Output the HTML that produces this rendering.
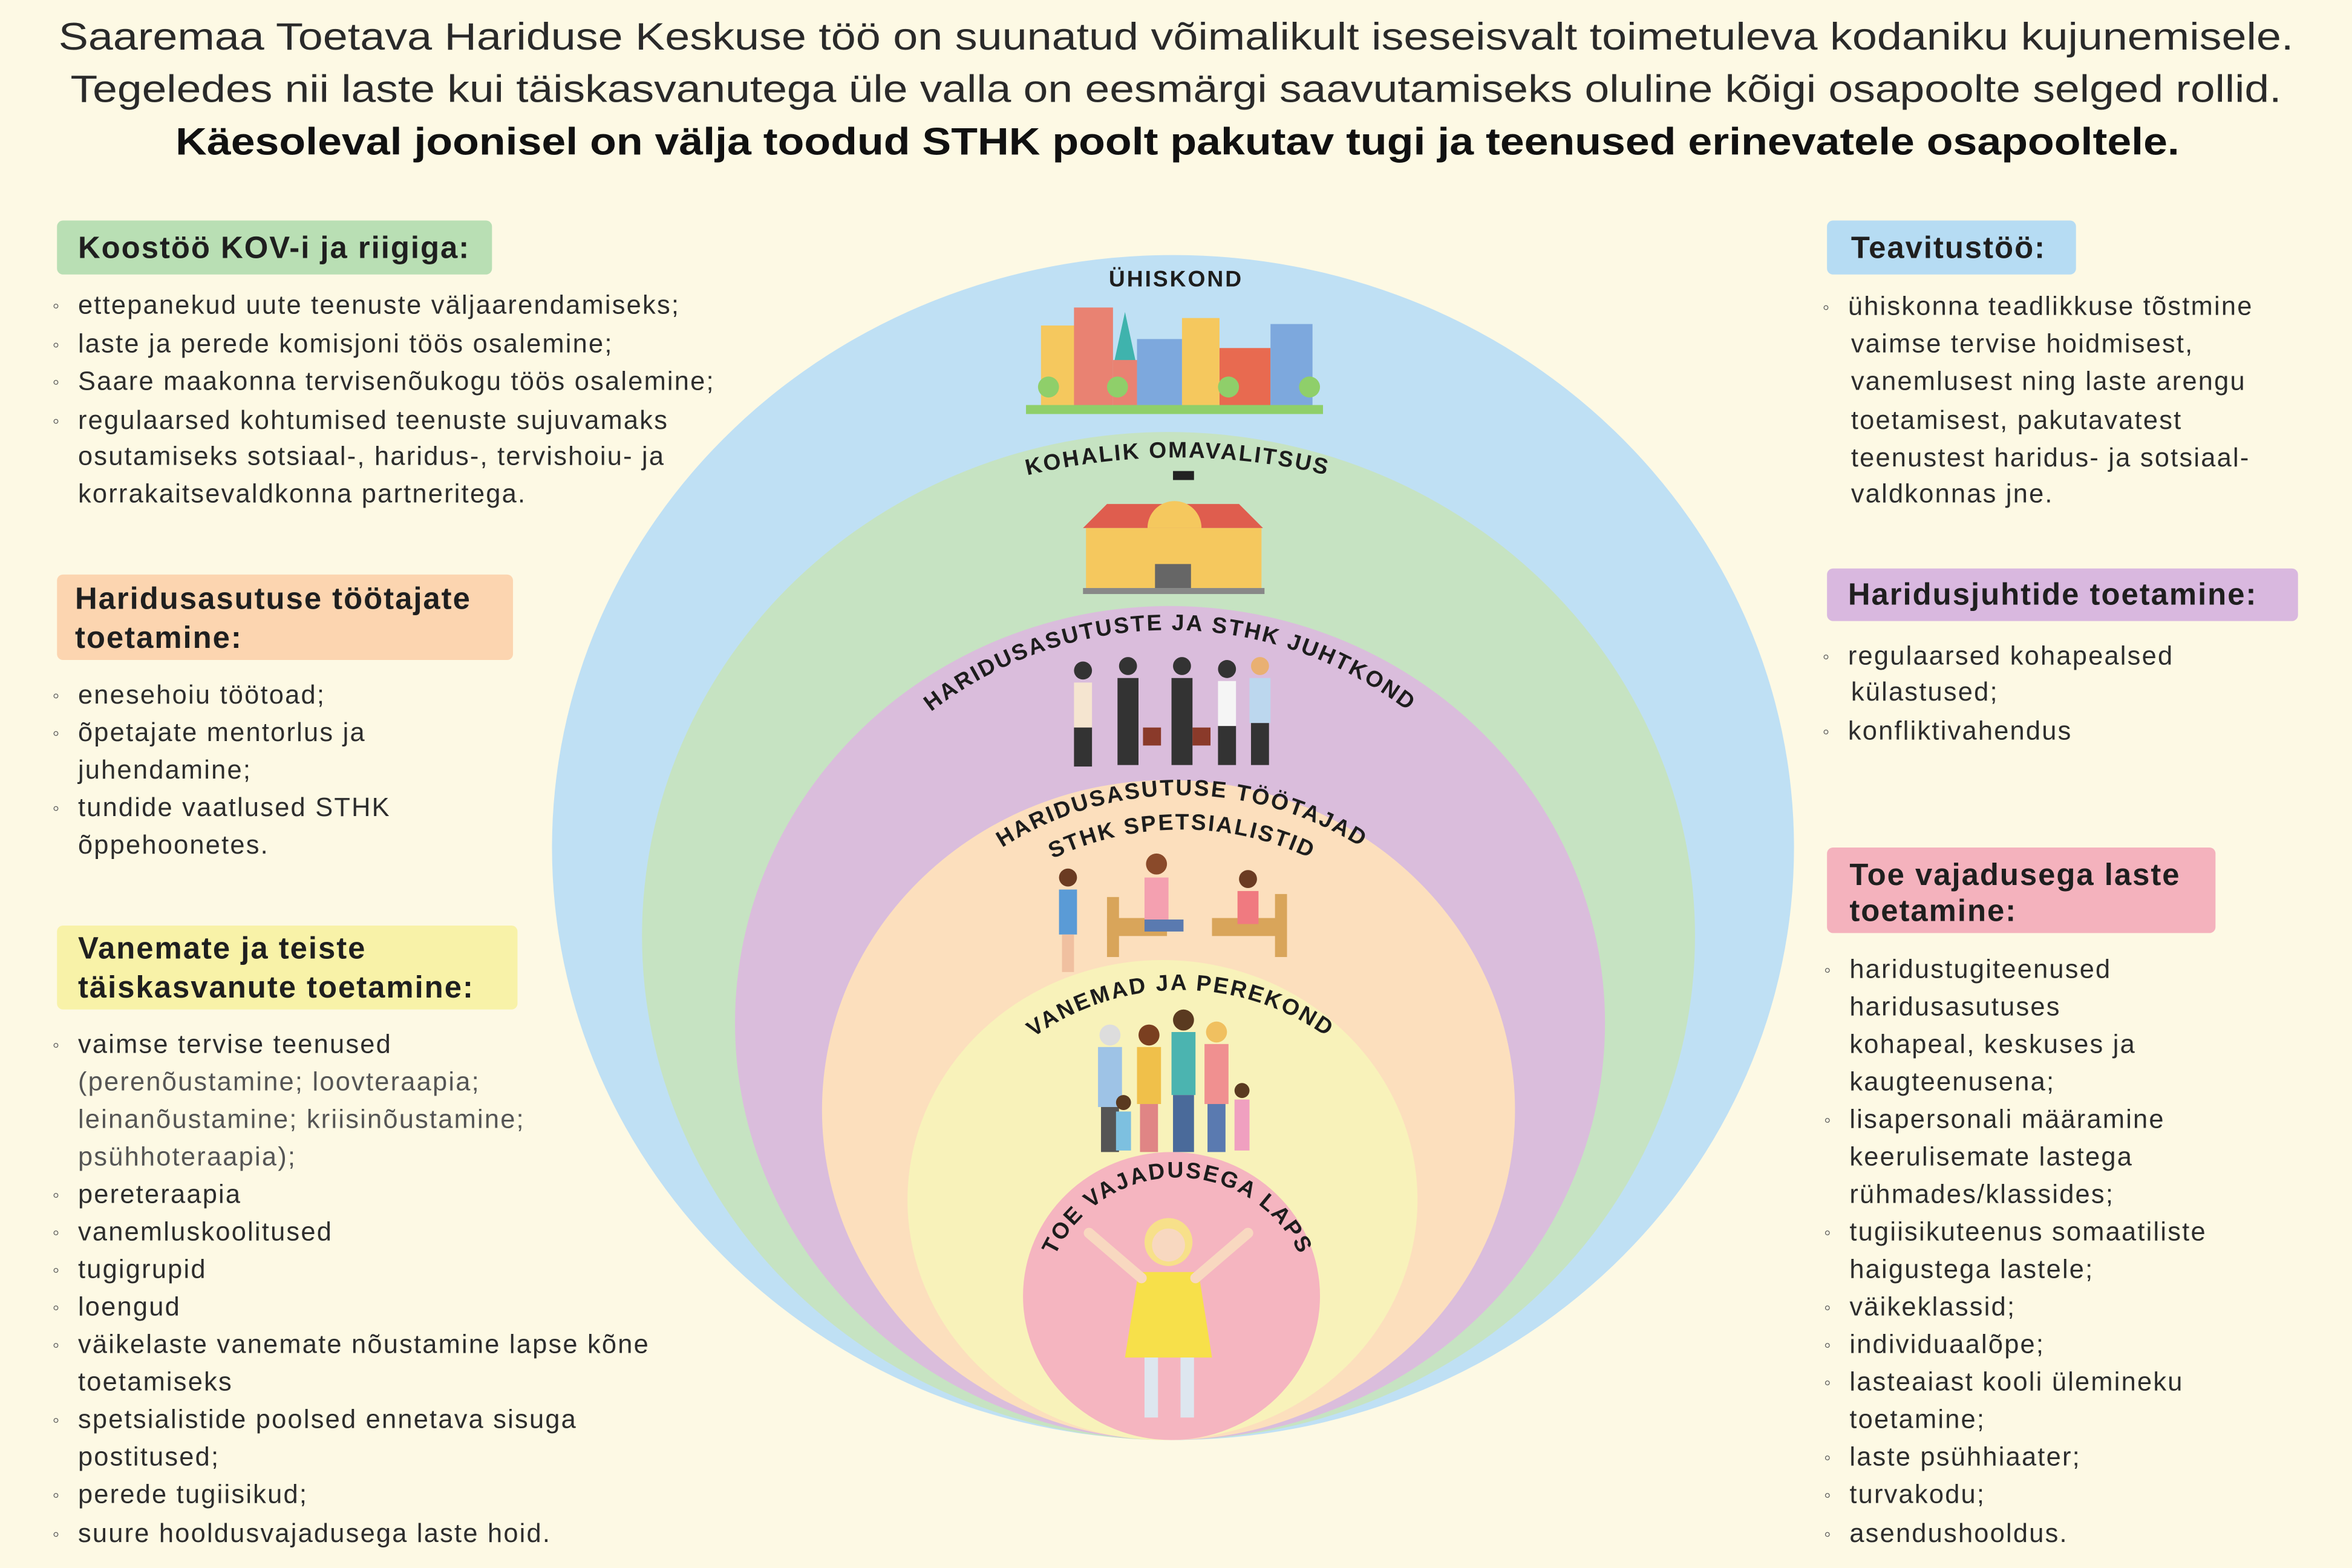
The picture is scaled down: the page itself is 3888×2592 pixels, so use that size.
<!DOCTYPE html>
<html><head><meta charset="utf-8"><style>
html,body{margin:0;padding:0;background:#fdf9e4;}
svg{display:block}
text{font-family:"Liberation Sans",sans-serif;}
.b{font-size:17.5px;fill:#2d2d2d;letter-spacing:0.9px}
.g{font-size:17.5px;fill:#555;letter-spacing:0.9px}
.bu{font-size:13px;fill:#555}
.h{font-size:20.5px;font-weight:bold;fill:#1f1f1f;letter-spacing:0.8px}
.c{font-size:15px;font-weight:bold;fill:#1d1d1d;letter-spacing:1.2px}
</style></head><body>
<svg width="3888" height="2592" viewBox="0 0 1568 1045.3" xmlns="http://www.w3.org/2000/svg">
<rect width="1568" height="1046" fill="#fdf9e4"/>
<g font-size="25.5" fill="#2a2a2a" text-anchor="middle">
<text x="784" y="33" textLength="1490" lengthAdjust="spacingAndGlyphs">Saaremaa Toetava Hariduse Keskuse töö on suunatud võimalikult iseseisvalt toimetuleva kodaniku kujunemisele.</text>
<text x="784" y="68" textLength="1474" lengthAdjust="spacingAndGlyphs">Tegeledes nii laste kui täiskasvanutega üle valla on eesmärgi saavutamiseks oluline kõigi osapoolte selged rollid.</text>
<text x="785" y="103" font-weight="bold" fill="#111" textLength="1336" lengthAdjust="spacingAndGlyphs">Käesoleval joonisel on välja toodud STHK poolt pakutav tugi ja teenused erinevatele osapooltele.</text>
</g>
<ellipse cx="782" cy="565" rx="414" ry="395" fill="#bfe0f4"/>
<ellipse cx="779" cy="624" rx="351" ry="336" fill="#c6e3c2"/>
<ellipse cx="780" cy="682" rx="290" ry="278" fill="#dabddc"/>
<ellipse cx="779" cy="740" rx="231" ry="220" fill="#fcdfbd"/>
<ellipse cx="775" cy="800" rx="170" ry="160" fill="#f8f2ba"/>
<ellipse cx="781" cy="864" rx="99" ry="96" fill="#f5b5c0"/>
<defs>
<path id="p1" d="M 355 735 A 430 430 0 0 1 1215 735"/>
<path id="p2" d="M 520 680 A 260 260 0 0 1 1040 680"/>
<path id="p3" d="M 565 753 A 223 223 0 0 1 1011 753"/>
<path id="p4" d="M 588 753 A 200 200 0 0 1 988 753"/>
<path id="p5" d="M 619 828 A 168 168 0 0 1 955 828"/>
<path id="p6" d="M 695 875 A 90 90 0 0 1 875 875"/>
</defs>
<text class="c" x="784" y="191" text-anchor="middle">ÜHISKOND</text>
<text class="c"><textPath href="#p1" startOffset="50%" text-anchor="middle">KOHALIK OMAVALITSUS</textPath></text>
<text class="c"><textPath href="#p2" startOffset="50%" text-anchor="middle">HARIDUSASUTUSTE JA STHK JUHTKOND</textPath></text>
<text class="c"><textPath href="#p3" startOffset="50%" text-anchor="middle">HARIDUSASUTUSE TÖÖTAJAD</textPath></text>
<text class="c"><textPath href="#p4" startOffset="50%" text-anchor="middle">STHK SPETSIALISTID</textPath></text>
<text class="c"><textPath href="#p5" startOffset="50%" text-anchor="middle">VANEMAD JA PEREKOND</textPath></text>
<text class="c"><textPath href="#p6" startOffset="50%" text-anchor="middle">TOE VAJADUSEGA LAPS</textPath></text>
<g>
<rect x="694" y="217" width="30" height="55" fill="#f5c85e"/>
<rect x="716" y="205" width="26" height="67" fill="#e98272"/>
<polygon points="742,245 750,208 758,245" fill="#3fb3ad"/>
<rect x="742" y="240" width="16" height="32" fill="#e98272"/>
<rect x="758" y="226" width="30" height="46" fill="#7da8dd"/>
<rect x="788" y="212" width="25" height="60" fill="#f5c85e"/>
<rect x="813" y="232" width="34" height="40" fill="#e86a50"/>
<rect x="847" y="216" width="28" height="56" fill="#7da8dd"/>
<rect x="684" y="270" width="198" height="6" fill="#8fcf6a"/>
<circle cx="699" cy="258" r="7" fill="#8fcf6a"/><circle cx="745" cy="258" r="7" fill="#8fcf6a"/><circle cx="819" cy="258" r="7" fill="#8fcf6a"/><circle cx="873" cy="258" r="7" fill="#8fcf6a"/>
</g>
<g>
<rect x="782" y="314" width="14" height="6" fill="#222"/>
<polygon points="722,352 738,336 826,336 842,352" fill="#df5d4e"/>
<path d="M 765 352 A 18 18 0 0 1 801 352 Z" fill="#f5c85e"/>
<rect x="724" y="352" width="117" height="40" fill="#f5c85e"/>
<rect x="722" y="392" width="121" height="4" fill="#888"/>
<rect x="770" y="376" width="24" height="16" fill="#666"/>
</g>
<g fill="#333">
<circle cx="722" cy="447" r="6"/><rect x="716" y="455" width="12" height="30" fill="#f5e5d0"/><rect x="716" y="485" width="12" height="26"/>
<circle cx="752" cy="444" r="6"/><rect x="745" y="452" width="14" height="58"/>
<circle cx="788" cy="444" r="6"/><rect x="781" y="452" width="14" height="58"/>
<rect x="762" y="485" width="12" height="12" fill="#8a3a2a"/><rect x="795" y="485" width="12" height="12" fill="#8a3a2a"/>
<circle cx="818" cy="446" r="6"/><rect x="812" y="454" width="12" height="30" fill="#f5f5f5"/><rect x="812" y="484" width="12" height="26"/>
<circle cx="840" cy="444" r="6" fill="#e9b072"/><rect x="833" y="452" width="14" height="30" fill="#bcd7ee"/><rect x="834" y="482" width="12" height="28"/>
</g>
<g>
<circle cx="712" cy="585" r="6" fill="#6b3b22"/><rect x="706" y="593" width="12" height="30" fill="#5a9bd6"/><rect x="708" y="623" width="8" height="25" fill="#f0c0a0"/>
<rect x="738" y="612" width="40" height="12" fill="#d9a55a"/><rect x="738" y="598" width="8" height="40" fill="#d9a55a"/>
<circle cx="771" cy="576" r="7" fill="#8a4a2a"/><rect x="763" y="585" width="16" height="28" fill="#f4a0b0"/><rect x="763" y="613" width="26" height="8" fill="#5a7ab0"/>
<rect x="808" y="612" width="50" height="12" fill="#d9a55a"/><rect x="850" y="596" width="8" height="42" fill="#d9a55a"/>
<circle cx="832" cy="586" r="6" fill="#6b3b22"/><rect x="825" y="594" width="14" height="22" fill="#f07a80"/>
</g>
<g>
<circle cx="740" cy="690" r="7" fill="#ddd"/><rect x="732" y="698" width="16" height="40" fill="#9ec3e6"/><rect x="734" y="738" width="12" height="30" fill="#555"/>
<circle cx="766" cy="690" r="7" fill="#7a3f20"/><rect x="758" y="698" width="16" height="38" fill="#f0c04a"/><rect x="760" y="736" width="12" height="32" fill="#e08585"/>
<circle cx="789" cy="680" r="7" fill="#5a3a20"/><rect x="781" y="688" width="16" height="42" fill="#4bb4b0"/><rect x="782" y="730" width="14" height="38" fill="#4a6a9a"/>
<circle cx="811" cy="688" r="7" fill="#f0c060"/><rect x="803" y="696" width="16" height="40" fill="#f09090"/><rect x="805" y="736" width="12" height="32" fill="#5a7ab0"/>
<circle cx="749" cy="735" r="5" fill="#5a3a20"/><rect x="744" y="741" width="10" height="26" fill="#7dc0e0"/>
<circle cx="828" cy="727" r="5" fill="#5a3a20"/><rect x="823" y="733" width="10" height="34" fill="#f0a0c0"/>
</g>
<g>
<circle cx="779" cy="828" r="16" fill="#f7e08a"/><circle cx="779" cy="830" r="11" fill="#f8d8c0"/>
<polygon points="759,848 799,848 808,905 750,905" fill="#f7e04a"/>
<line x1="761" y1="852" x2="726" y2="822" stroke="#f8d8c0" stroke-width="7" stroke-linecap="round"/>
<line x1="797" y1="852" x2="832" y2="822" stroke="#f8d8c0" stroke-width="7" stroke-linecap="round"/>
<rect x="763" y="905" width="9" height="40" fill="#dde6ef"/><rect x="787" y="905" width="9" height="40" fill="#dde6ef"/>
</g>

<rect x="38" y="147" width="290" height="36" rx="4" fill="#b9dfb4"/>
<text class="h" x="52" y="172">Koostöö KOV-i ja riigiga:</text>
<text class="bu" x="35" y="208">◦</text><text class="b" x="52" y="209">ettepanekud uute teenuste väljaarendamiseks;</text>
<text class="bu" x="35" y="234">◦</text><text class="b" x="52" y="235">laste ja perede komisjoni töös osalemine;</text>
<text class="bu" x="35" y="259">◦</text><text class="b" x="52" y="260">Saare maakonna tervisenõukogu töös osalemine;</text>
<text class="bu" x="35" y="285">◦</text><text class="b" x="52" y="286">regulaarsed kohtumised teenuste sujuvamaks</text>
<text class="b" x="52" y="310">osutamiseks sotsiaal-, haridus-, tervishoiu- ja</text>
<text class="b" x="52" y="335">korrakaitsevaldkonna partneritega.</text>

<rect x="38" y="383" width="304" height="57" rx="4" fill="#fcd5b0"/>
<text class="h" x="50" y="406">Haridusasutuse töötajate</text>
<text class="h" x="50" y="432">toetamine:</text>
<text class="bu" x="35" y="468">◦</text><text class="b" x="52" y="469">enesehoiu töötoad;</text>
<text class="bu" x="35" y="493">◦</text><text class="b" x="52" y="494">õpetajate mentorlus ja</text>
<text class="b" x="52" y="519">juhendamine;</text>
<text class="bu" x="35" y="543">◦</text><text class="b" x="52" y="544">tundide vaatlused STHK</text>
<text class="b" x="52" y="569">õppehoonetes.</text>

<rect x="38" y="617" width="307" height="56" rx="4" fill="#f8f2a8"/>
<text class="h" x="52" y="639">Vanemate ja teiste</text>
<text class="h" x="52" y="665">täiskasvanute toetamine:</text>
<text class="bu" x="35" y="701">◦</text><text class="b" x="52" y="702">vaimse tervise teenused</text>
<text class="g" x="52" y="727">(perenõustamine; loovteraapia;</text>
<text class="g" x="52" y="752">leinanõustamine; kriisinõustamine;</text>
<text class="g" x="52" y="777">psühhoteraapia);</text>
<text class="bu" x="35" y="801">◦</text><text class="b" x="52" y="802">pereteraapia</text>
<text class="bu" x="35" y="826">◦</text><text class="b" x="52" y="827">vanemluskoolitused</text>
<text class="bu" x="35" y="851">◦</text><text class="b" x="52" y="852">tugigrupid</text>
<text class="bu" x="35" y="876">◦</text><text class="b" x="52" y="877">loengud</text>
<text class="bu" x="35" y="901">◦</text><text class="b" x="52" y="902">väikelaste vanemate nõustamine lapse kõne</text>
<text class="b" x="52" y="927">toetamiseks</text>
<text class="bu" x="35" y="951">◦</text><text class="b" x="52" y="952">spetsialistide poolsed ennetava sisuga</text>
<text class="b" x="52" y="977">postitused;</text>
<text class="bu" x="35" y="1001">◦</text><text class="b" x="52" y="1002">perede tugiisikud;</text>
<text class="bu" x="35" y="1027">◦</text><text class="b" x="52" y="1028">suure hooldusvajadusega laste hoid.</text>

<rect x="1218" y="147" width="166" height="36" rx="4" fill="#b6dcf3"/>
<text class="h" x="1234" y="172">Teavitustöö:</text>
<text class="bu" x="1215" y="209">◦</text><text class="b" x="1232" y="210">ühiskonna teadlikkuse tõstmine</text>
<text class="b" x="1234" y="235">vaimse tervise hoidmisest,</text>
<text class="b" x="1234" y="260">vanemlusest ning laste arengu</text>
<text class="b" x="1234" y="286">toetamisest, pakutavatest</text>
<text class="b" x="1234" y="311">teenustest haridus- ja sotsiaal-</text>
<text class="b" x="1234" y="335">valdkonnas jne.</text>

<rect x="1218" y="379" width="314" height="35" rx="4" fill="#d9b8df"/>
<text class="h" x="1232" y="403">Haridusjuhtide toetamine:</text>
<text class="bu" x="1215" y="442">◦</text><text class="b" x="1232" y="443">regulaarsed kohapealsed</text>
<text class="b" x="1234" y="467">külastused;</text>
<text class="bu" x="1215" y="492">◦</text><text class="b" x="1232" y="493">konfliktivahendus</text>

<rect x="1218" y="565" width="259" height="57" rx="4" fill="#f4b2bd"/>
<text class="h" x="1233" y="590">Toe vajadusega laste</text>
<text class="h" x="1233" y="614">toetamine:</text>
<text class="bu" x="1216" y="651">◦</text><text class="b" x="1233" y="652">haridustugiteenused</text>
<text class="b" x="1233" y="677">haridusasutuses</text>
<text class="b" x="1233" y="702">kohapeal, keskuses ja</text>
<text class="b" x="1233" y="727">kaugteenusena;</text>
<text class="bu" x="1216" y="751">◦</text><text class="b" x="1233" y="752">lisapersonali määramine</text>
<text class="b" x="1233" y="777">keerulisemate lastega</text>
<text class="b" x="1233" y="802">rühmades/klassides;</text>
<text class="bu" x="1216" y="826">◦</text><text class="b" x="1233" y="827">tugiisikuteenus somaatiliste</text>
<text class="b" x="1233" y="852">haigustega lastele;</text>
<text class="bu" x="1216" y="876">◦</text><text class="b" x="1233" y="877">väikeklassid;</text>
<text class="bu" x="1216" y="901">◦</text><text class="b" x="1233" y="902">individuaalõpe;</text>
<text class="bu" x="1216" y="926">◦</text><text class="b" x="1233" y="927">lasteaiast kooli ülemineku</text>
<text class="b" x="1233" y="952">toetamine;</text>
<text class="bu" x="1216" y="976">◦</text><text class="b" x="1233" y="977">laste psühhiaater;</text>
<text class="bu" x="1216" y="1001">◦</text><text class="b" x="1233" y="1002">turvakodu;</text>
<text class="bu" x="1216" y="1027">◦</text><text class="b" x="1233" y="1028">asendushooldus.</text>
</svg>
</body></html>
